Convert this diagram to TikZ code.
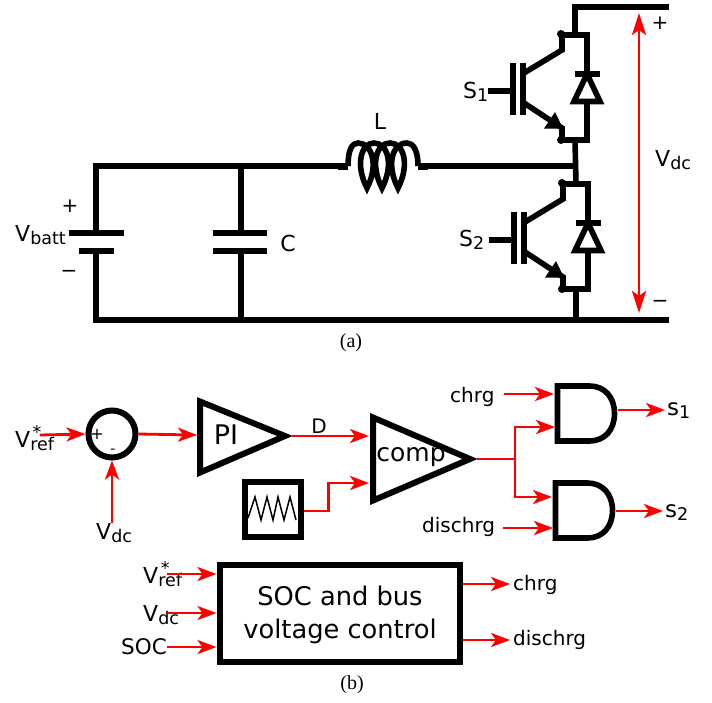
\documentclass[tikz,border=0pt]{standalone}
\usepackage{fontspec}
\setmainfont{DejaVu Sans}
\newfontfamily\capfont{Liberation Serif}
\usetikzlibrary{arrows.meta}
\usetikzlibrary{positioning}

\newcommand{\sublab}[2]{{\fontsize{22}{24}\selectfont #1}\raisebox{-3.5pt}{\fontsize{17.5}{17}\selectfont #2}}
\newcommand{\reflab}{{\fontsize{22}{24}\selectfont V}\rlap{\hspace{2.5pt}\raisebox{9pt}{\fontsize{17.5}{17}\selectfont *}}\raisebox{-3.5pt}{\fontsize{17.5}{17}\selectfont ref}}

\tikzset{wire/.style={line width=5.6pt}}
\tikzset{sig/.style={red, line width=2.8pt, -{Stealth[length=19pt, width=14pt, inset=5pt]}}}
\tikzset{redline/.style={red, line width=2.8pt}}
\tikzset{lab/.style={font=\fontsize{20}{24}\selectfont, inner sep=0pt}}
\tikzset{caption/.style={font=\capfont\fontsize{20}{22}\selectfont, inner sep=0pt}}
\tikzset{block/.style={draw, line width=6pt, inner sep=0pt, outer sep=3pt}}
\tikzset{igbt/.pic={
    \draw[wire] (-62,0) -- (-37,0);
    \draw[wire] (-37,-28) -- (-37,24);
    \draw[wire] (-27,-28) -- (-27,24);
    \draw[wire] (12,-57) -- (12,-41) -- (-26,-18);
    \draw[wire] (-26,12) -- (12,37) -- (12,50);
    \fill (11,-57) circle (4);
    \fill (11,49) circle (4);
    \fill (5,21) -- (13,37.5) -- (-6,37.5) -- cycle;
    \draw[wire] (10,-56) -- (37,-56) -- (37,-18);
    \draw[wire] (25,-17) -- (50,-17);
    \draw[wire, line join=miter] (37,-17) -- (50,10.5) -- (24,10.5) -- cycle;
    \draw[wire] (37,10.5) -- (37,49) -- (10,49);
}}
\tikzset{andgate/.pic={
    \coordinate (-out) at (60,27);
    \draw[wire, line join=miter] (32,0) -- (0,0) -- (0,55) -- (32,55)
      .. controls (47,55) and (57,44) .. (57,27.5)
      .. controls (57,11) and (47,0) .. (32,0);
}}

\begin{document}
\begin{tikzpicture}[x=1pt, y=-1pt]
  \useasboundingbox (0,0) rectangle (712,702);

  % (a)
  \pic (swa) at (550,91) {igbt};
  \pic (swb) at (551,240) {igbt};

  \coordinate (topl) at (575,7);
  \coordinate (topr) at (669,7);
  \coordinate (midj) at (576,166);
  \coordinate (botj) at (576,320);
  \coordinate (botr) at (669,320);
  \coordinate (botl) at (96,320);
  \coordinate (battt) at (96,233);
  \coordinate (battb) at (96,251);
  \coordinate (capt) at (241,233);
  \coordinate (capb) at (241,251);
  \coordinate (capj) at (241,166);
  \coordinate (capk) at (241,320);
  \coordinate (coila) at (348,166);
  \coordinate (coilb) at (418,166);

  \draw[wire] (topr) -- (topl) -- (575,35);
  \draw[wire] (575,140) -- (576,184);
  \draw[wire] (576,289) -- (botj);
  \draw[wire] (botr) -- (botl) -- (battb);
  \draw[wire] (battt) |- (coila);
  \draw[wire] (capj) -- (capt);
  \draw[wire] (capb) -- (capk);
  \draw[wire] (coilb) -- (midj);
  \draw[wire] (69,233) -- (124,233);
  \draw[wire] (79,251) -- (114,251);
  \draw[wire] (213,233) -- (267,233);
  \draw[wire] (213,251) -- (267,251);
  \draw[line width=7pt] (338,166) -- (coila);
  \draw[line width=7pt] (coilb) -- (428,166);
  \draw[line width=5.6pt, line join=miter, miter limit=20] (coila)
    .. controls (348,150) and (352,143) .. (358,143)
    .. controls (372,143) and (379,165) .. (367,188)
    .. controls (355,165) and (361,143) .. (374,143)
    .. controls (388,143) and (394,165) .. (382,188)
    .. controls (370,165) and (376,143) .. (390,143)
    .. controls (404,143) and (410,165) .. (398,188)
    .. controls (386,165) and (392,143) .. (407,143)
    .. controls (413,143) and (418,150) .. (coilb);

  \coordinate (vtop) at (639,13);
  \coordinate (vbot) at (639,313);
  \draw[redline, {Stealth[length=22pt, width=14pt, inset=5pt]}-{Stealth[length=22pt, width=14pt, inset=5pt]}] (vtop) -- (vbot);

  \node[lab] (lplus) at (660,23) {+};
  \node[lab] (lminus) at (660,304) {−};
  \node[lab, anchor=base west] (lvdc) at (655,166) {\sublab{V}{dc}};
  \node[lab, anchor=base west] (lsa) at (463,98) {\sublab{S}{1}};
  \node[lab, anchor=base west] (lsb) at (459,246) {\sublab{S}{2}};
  \node[lab, font=\fontsize{22}{24}\selectfont] (ll) at (380,121) {L};
  \node[lab, font=\fontsize{22}{24}\selectfont] (lc) at (288,243) {C};
  \node[lab, anchor=base west] (lbatt) at (15,241) {\sublab{V}{batt}};
  \node[lab] (lbp) at (70,206) {+};
  \node[lab] (lbm) at (69,274) {−};
  \node[caption] (capna) at (351,343) {(a)};

  % (b)
  \node[block, circle, minimum size=47pt] (sum) at (112,434) {};
  \node[font=\fontsize{16}{20}\selectfont, inner sep=0pt] (sumplus) at (97,434) {+};
  \node[font=\fontsize{14}{16}\selectfont, inner sep=0pt] (summinus) at (113,451) {-};
  \node[lab, anchor=base west] (lvref) at (15,447) {\reflab};
  \node[lab, anchor=base west] (lvdcb) at (96,539) {\sublab{V}{dc}};
  \coordinate (vrefin) at (40,435);
  \coordinate (vdcin) at (112,523);
  \draw[sig] (vrefin) -- (sum.west);
  \draw[sig] (vdcin) -- (sum.south);

  \coordinate (pia) at (200,401.5);
  \coordinate (pib) at (200,472.5);
  \coordinate (pic) at (285,436);
  \coordinate (pitip) at (292,436);
  \coordinate (piin) at (197,435);
  \draw[wire, line width=6pt, line join=miter] (pia) -- (pic) -- (pib) -- cycle;
  \node[font=\fontsize{27}{28}\selectfont, inner sep=0pt] (pitext) at (226,435) {PI};
  \draw[sig] (sum.east) -- (piin);
  \node[lab] (ld) at (319,426) {D};

  \coordinate (cpa) at (373,417.5);
  \coordinate (cpb) at (373,500.5);
  \coordinate (cpc) at (470,459);
  \coordinate (cptip) at (477,459);
  \coordinate (cpin) at (369,436);
  \coordinate (cpim) at (369,483);
  \draw[wire, line width=6pt, line join=miter] (cpa) -- (cpc) -- (cpb) -- cycle;
  \node[font=\fontsize{25}{28}\selectfont, inner sep=0pt] (cptext) at (411,457) {comp};
  \draw[sig] (pitip) -- (cpin);

  \node[block, minimum width=56pt, minimum height=55pt] (tri) at (272.5,509) {};
  \draw[line width=1.5pt] (248,518) -- (255,497) -- (261,520) -- (267,497) -- (273,520) -- (278,497) -- (284,520) -- (290,497) -- (296,520);
  \draw[sig] (tri.east) ++(0,2) -- ++(25,0) |- (cpim);

  \pic (anda) at (557.5,386) {andgate};
  \pic (andb) at (555.5,483) {andgate};
  \coordinate (cpo) at (515,459);
  \draw[redline] (cptip) -- (cpo);
  \draw[sig] (cpo) |- (555,427);
  \draw[sig] (cpo) |- (552,497);
  \node[lab, anchor=base west] (lchrg) at (450,402) {chrg};
  \node[lab, anchor=base west] (ldis) at (422,532) {dischrg};
  \draw[sig] (504,394) -- (554,394);
  \draw[sig] (503,528) -- (553,528);
  \coordinate (outa) at (665,410);
  \coordinate (outb) at (663,511);
  \node[lab, anchor=base west] (lsla) at (667,415) {\sublab{\fontsize{23}{24}\selectfont s}{1}};
  \node[lab, anchor=base west] (lslb) at (665,517) {\sublab{\fontsize{23}{24}\selectfont s}{2}};
  \draw[sig] (anda-out |- outa) -- (outa);
  \draw[sig] (andb-out |- outb) -- (outb);

  \node[block, minimum width=240pt, minimum height=97pt] (ctrl) at (339.5,613) {};
  \node[font=\fontsize{25.7}{33}\selectfont, inner sep=0pt, align=center] (ctrltext) at (340,615) {SOC and bus\\voltage control};
  \node[lab, anchor=base west] (lvrefb) at (143,583) {\reflab};
  \node[lab, anchor=base west] (lvdcc) at (143,621) {\sublab{V}{dc}};
  \node[lab, anchor=base west, font=\fontsize{21.5}{24}\selectfont] (lsoc) at (121,654) {SOC};
  \coordinate (ina) at (167,574);
  \coordinate (inb) at (168,613);
  \coordinate (inc) at (167,647);
  \draw[sig] (ina) -- (ina -| ctrl.west);
  \draw[sig] (inb) -- (inb -| ctrl.west);
  \draw[sig] (inc) -- (inc -| ctrl.west);
  \coordinate (oua) at (510,584);
  \coordinate (oub) at (510,640);
  \draw[sig] (oua -| ctrl.east) -- (oua);
  \draw[sig] (oub -| ctrl.east) -- (oub);
  \node[lab, anchor=base west] (lchrgb) at (513,590) {chrg};
  \node[lab, anchor=base west] (ldisb) at (513,645) {dischrg};
  \node[caption] (capnb) at (352,685) {(b)};
\end{tikzpicture}
\end{document}
